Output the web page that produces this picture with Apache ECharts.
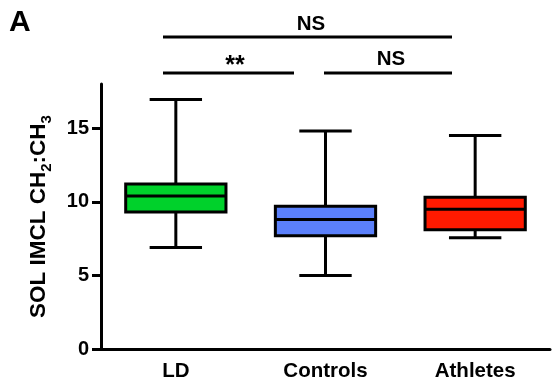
<!DOCTYPE html>
<html>
<head>
<meta charset="utf-8">
<script src="https://cdn.jsdelivr.net/npm/echarts@6/dist/echarts.min.js"></script>
<style>
  html, body { margin: 0; padding: 0; background: #fff; }
  #chart { width: 552px; height: 387px; }
</style>
</head>
<body>
<div id="chart"></div>
<script>
// Groups and five-number summaries of SOL IMCL CH2:CH3
const categories = ['LD', 'Controls', 'Athletes'];
const whiskerLow = [6.9, 5.0, 7.55];
const quartile1 = [9.3, 7.7, 8.1];
const median = [10.4, 8.8, 9.5];
const quartile3 = [11.2, 9.7, 10.3];
const whiskerHigh = [16.95, 14.8, 14.5];
const boxColors = ['#00d12b', '#5b80fb', '#ff1a00'];
const yTicks = [0, 5, 10, 15];

const FONT = '"Liberation Sans", Arial, Helvetica, sans-serif';

const boxData = categories.map((c, i) => [
  i, whiskerLow[i], quartile1[i], median[i], quartile3[i], whiskerHigh[i]
]);

function renderBox(params, api) {
  const i = api.value(0);
  const band = api.size([1, 0])[0];
  const boxW = band * 0.67;
  const capW = band * 0.35;
  const x = api.coord([i, 0])[0];
  const yLow = api.coord([i, api.value(1)])[1];
  const yQ1 = api.coord([i, api.value(2)])[1];
  const yMed = api.coord([i, api.value(3)])[1];
  const yQ3 = api.coord([i, api.value(4)])[1];
  const yHigh = api.coord([i, api.value(5)])[1];
  const stroke = { stroke: '#000', lineWidth: 3, fill: null };
  const seg = (x1, y1, x2, y2) => ({
    type: 'line', shape: { x1, y1, x2, y2 }, style: stroke
  });
  return {
    type: 'group',
    children: [
      seg(x, yLow, x, yQ1),
      seg(x, yQ3, x, yHigh),
      seg(x - capW / 2, yLow, x + capW / 2, yLow),
      seg(x - capW / 2, yHigh, x + capW / 2, yHigh),
      {
        type: 'rect',
        shape: { x: x - boxW / 2, y: yQ3, width: boxW, height: yQ1 - yQ3 },
        style: { fill: boxColors[i], stroke: '#000', lineWidth: 3 }
      },
      seg(x - boxW / 2, yMed, x + boxW / 2, yMed)
    ]
  };
}

const chart = echarts.init(document.getElementById('chart'), null, { renderer: 'canvas' });

const labelFont = { color: '#000', fontFamily: FONT, fontWeight: 'bold', fontSize: 20 };

chart.setOption({
  animation: false,
  backgroundColor: '#fff',
  grid: { left: 101, right: 2, top: 84, bottom: 38, containLabel: false },
  xAxis: {
    type: 'category',
    data: categories,
    boundaryGap: true,
    axisLine: { lineStyle: { color: '#000', width: 3 } },
    axisTick: { alignWithLabel: true, length: 9, lineStyle: { color: '#000', width: 3 } },
    axisLabel: Object.assign({ margin: 12 }, labelFont, { fontSize: 20.5 }),
    splitLine: { show: false }
  },
  yAxis: {
    type: 'value',
    min: 0,
    max: 18,
    interval: 5,
    axisLine: { show: true, lineStyle: { color: '#000', width: 3 } },
    axisTick: { show: true, length: 9, customValues: yTicks, lineStyle: { color: '#000', width: 3 } },
    axisLabel: Object.assign({ margin: 12, customValues: yTicks }, labelFont),
    splitLine: { show: false },
    name: '{a|SOL IMCL CH}{s|2}{a|:CH}{s|3}',
    nameLocation: 'middle',
    nameRotate: 90,
    nameGap: 47,
    nameTextStyle: {
      rich: {
        a: { fontFamily: FONT, fontWeight: 'bold', fontSize: 22.5, color: '#000',
             verticalAlign: 'top', padding: [0, 0, 4, 0] },
        s: { fontFamily: FONT, fontWeight: 'bold', fontSize: 15, color: '#000',
             verticalAlign: 'bottom' }
      }
    }
  },
  series: [{
    type: 'custom',
    renderItem: renderBox,
    encode: { x: 0, y: [1, 2, 3, 4, 5] },
    data: boxData,
    z: 3
  }],
  graphic: [
    { type: 'text', left: 9, top: 8,
      style: { text: 'A', fontFamily: FONT, fontWeight: 'bold', fontSize: 30, fill: '#000' } },
    // comparison brackets
    { type: 'line', shape: { x1: 163, y1: 37, x2: 452, y2: 37 }, style: { stroke: '#000', lineWidth: 3 } },
    { type: 'line', shape: { x1: 163, y1: 73, x2: 294, y2: 73 }, style: { stroke: '#000', lineWidth: 3 } },
    { type: 'line', shape: { x1: 324, y1: 73, x2: 452, y2: 73 }, style: { stroke: '#000', lineWidth: 3 } },
    { type: 'text', x: 311, y: 24,
      style: { text: 'NS', align: 'center', verticalAlign: 'middle', fontFamily: FONT, fontWeight: 'bold', fontSize: 20.5, fill: '#000' } },
    { type: 'text', x: 235, y: 66,
      style: { text: '**', align: 'center', verticalAlign: 'middle', fontFamily: FONT, fontWeight: 'bold', fontSize: 25, fill: '#000' } },
    { type: 'text', x: 391, y: 59,
      style: { text: 'NS', align: 'center', verticalAlign: 'middle', fontFamily: FONT, fontWeight: 'bold', fontSize: 20.5, fill: '#000' } }
  ]
});
</script>
</body>
</html>
